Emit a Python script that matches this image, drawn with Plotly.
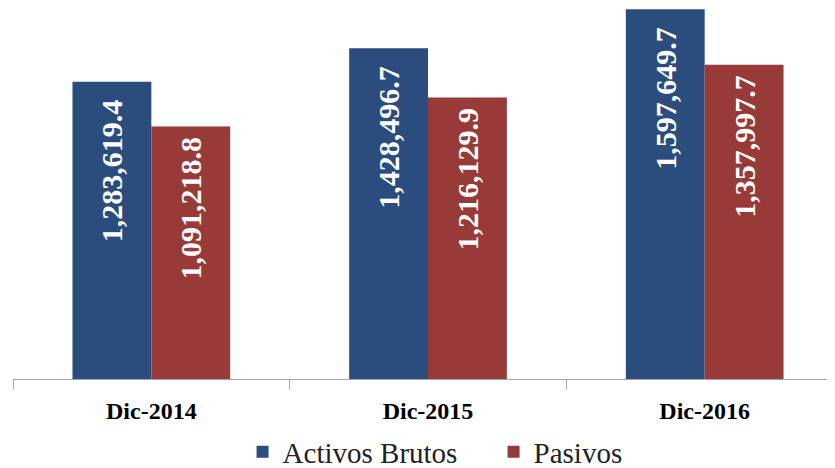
import plotly.graph_objects as go

categories = ["Dic-2014", "Dic-2015", "Dic-2016"]
activos = [1283619.4, 1428496.7, 1597649.7]
pasivos = [1091218.8, 1216129.9, 1357997.7]
series_names = ["Activos Brutos", "Pasivos"]

SERIF = "Liberation Serif"


def fmt(v, pad):
    return f"{v:,.1f}" + "\u00a0" * pad


fig = go.Figure()
fig.add_trace(go.Bar(
    x=categories, y=activos, name=series_names[0],
    marker=dict(color="#2a4d7e", line=dict(width=0)),
    text=[fmt(v, 2) for v in activos], textposition="inside",
    insidetextanchor="end", textangle=-90,
    textfont=dict(family=SERIF, size=30, color="white", weight="bold"),
))
fig.add_trace(go.Bar(
    x=categories, y=pasivos, name=series_names[1],
    marker=dict(color="#983a38", line=dict(width=0)),
    text=[fmt(v, 1) for v in pasivos], textposition="inside",
    insidetextanchor="end", textangle=-90,
    textfont=dict(family=SERIF, size=30, color="white", weight="bold"),
))

fig.update_layout(
    width=835, height=460,
    margin=dict(l=5, r=0, t=0, b=89),
    paper_bgcolor="white", plot_bgcolor="white",
    barmode="group", bargap=0.43, bargroupgap=0,
    showlegend=True,
    legend=dict(orientation="h", x=0.579, xanchor="center",
                yref="container", y=0.035, yanchor="middle",
                font=dict(family=SERIF, size=29, color="#222222"),
                entrywidth=206, entrywidthmode="pixels"),
    xaxis=dict(range=[-0.5, 2.5], showline=True, linecolor="#a6a6a6", linewidth=1,
               ticks="outside", tickson="boundaries", ticklen=9, tickcolor="#a6a6a6",
               ticklabelstandoff=10,
               tickfont=dict(family=SERIF, size=24, color="black", weight="bold"),
               showgrid=False, zeroline=False),
    yaxis=dict(range=[0, 1602600], showticklabels=False, showgrid=False,
               zeroline=False, showline=False, ticks=""),
    uniformtext=dict(mode=False),
)

fig.write_html("out.html")
